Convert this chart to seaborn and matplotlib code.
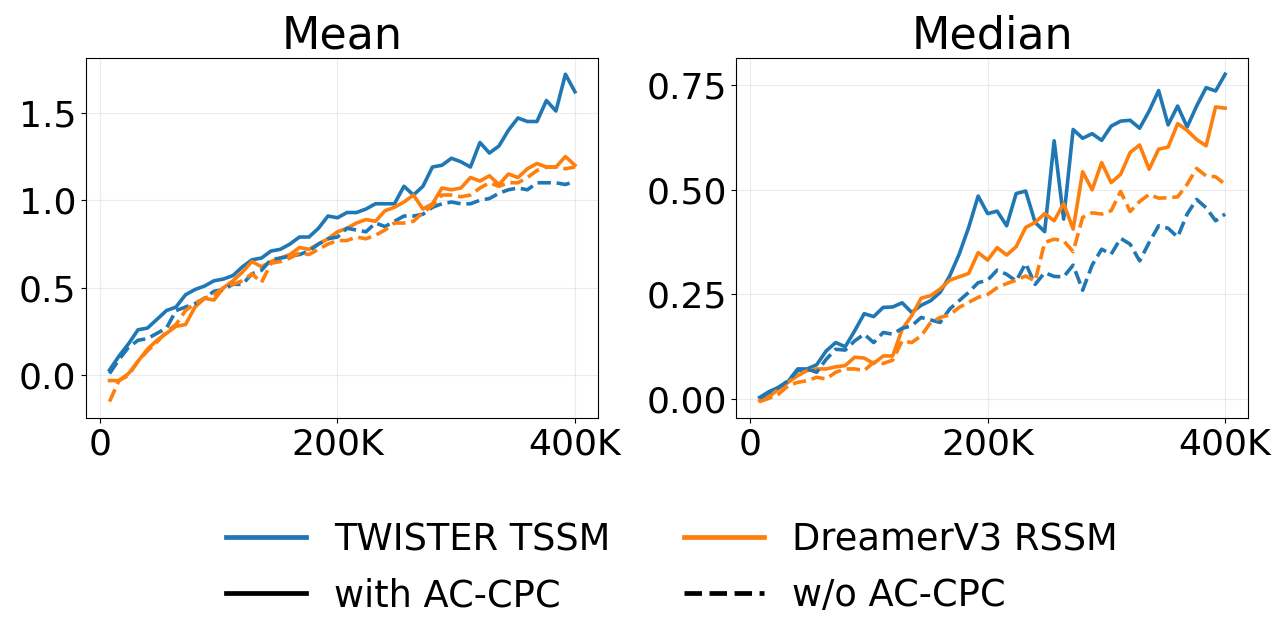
import numpy as np
import pandas as pd
import seaborn as sns
import matplotlib.pyplot as plt
from matplotlib.lines import Line2D
from matplotlib.ticker import FuncFormatter

steps = np.arange(8, 401, 8) * 1000

mean_twister_cpc = [0.03, 0.11, 0.18, 0.26, 0.27, 0.32, 0.37, 0.39, 0.46, 0.49,
                    0.51, 0.54, 0.55, 0.57, 0.62, 0.66, 0.67, 0.71, 0.72, 0.75,
                    0.79, 0.79, 0.84, 0.91, 0.90, 0.93, 0.93, 0.95, 0.98, 0.98,
                    0.98, 1.08, 1.03, 1.08, 1.19, 1.20, 1.24, 1.22, 1.19, 1.33,
                    1.27, 1.31, 1.40, 1.47, 1.45, 1.45, 1.57, 1.51, 1.72, 1.62]
mean_dreamer_cpc = [-0.03, -0.03, 0.01, 0.08, 0.15, 0.20, 0.24, 0.28, 0.29, 0.39,
                    0.44, 0.43, 0.50, 0.54, 0.59, 0.65, 0.62, 0.65, 0.67, 0.69,
                    0.73, 0.72, 0.75, 0.78, 0.82, 0.84, 0.87, 0.89, 0.88, 0.94,
                    0.96, 0.99, 1.03, 0.95, 0.98, 1.07, 1.06, 1.07, 1.13, 1.11,
                    1.14, 1.09, 1.15, 1.13, 1.18, 1.21, 1.19, 1.19, 1.25, 1.20]
mean_twister_nocpc = [0.01, 0.09, 0.16, 0.20, 0.21, 0.24, 0.27, 0.37, 0.39, 0.41,
                      0.44, 0.48, 0.49, 0.52, 0.52, 0.58, 0.60, 0.66, 0.67, 0.68,
                      0.69, 0.71, 0.75, 0.78, 0.79, 0.84, 0.83, 0.82, 0.87, 0.85,
                      0.88, 0.91, 0.91, 0.92, 0.96, 0.98, 0.99, 0.98, 0.98, 1.00,
                      1.01, 1.04, 1.06, 1.07, 1.06, 1.10, 1.10, 1.10, 1.09, 1.11]
mean_dreamer_nocpc = [-0.15, -0.03, 0.00, 0.08, 0.14, 0.19, 0.25, 0.29, 0.37, 0.41,
                      0.44, 0.46, 0.50, 0.52, 0.54, 0.58, 0.53, 0.64, 0.65, 0.67,
                      0.70, 0.69, 0.72, 0.75, 0.77, 0.77, 0.79, 0.78, 0.80, 0.83,
                      0.87, 0.87, 0.88, 0.93, 0.97, 1.03, 1.03, 1.02, 1.03, 1.07,
                      1.10, 1.08, 1.10, 1.10, 1.13, 1.17, 1.19, 1.19, 1.18, 1.19]

median_twister_cpc = [0.004, 0.018, 0.028, 0.042, 0.072, 0.072, 0.082, 0.115, 0.135, 0.125,
                      0.163, 0.204, 0.197, 0.219, 0.220, 0.230, 0.207, 0.224, 0.235, 0.255,
                      0.294, 0.346, 0.410, 0.485, 0.443, 0.449, 0.414, 0.491, 0.497, 0.422,
                      0.400, 0.617, 0.430, 0.644, 0.623, 0.634, 0.618, 0.652, 0.664, 0.666,
                      0.647, 0.688, 0.737, 0.655, 0.700, 0.650, 0.700, 0.744, 0.736, 0.776]
median_dreamer_cpc = [-0.004, 0.006, 0.024, 0.040, 0.056, 0.068, 0.072, 0.072, 0.077, 0.080,
                      0.100, 0.098, 0.085, 0.103, 0.103, 0.167, 0.199, 0.241, 0.247, 0.263,
                      0.284, 0.292, 0.300, 0.350, 0.332, 0.362, 0.344, 0.364, 0.410, 0.422,
                      0.443, 0.426, 0.467, 0.406, 0.543, 0.500, 0.565, 0.517, 0.537, 0.589,
                      0.607, 0.549, 0.597, 0.602, 0.658, 0.642, 0.620, 0.605, 0.698, 0.695]
median_twister_nocpc = [0.002, 0.016, 0.028, 0.044, 0.068, 0.072, 0.064, 0.095, 0.119, 0.117,
                        0.139, 0.155, 0.135, 0.159, 0.155, 0.169, 0.175, 0.195, 0.189, 0.183,
                        0.215, 0.235, 0.255, 0.278, 0.284, 0.308, 0.298, 0.282, 0.324, 0.274,
                        0.302, 0.293, 0.292, 0.320, 0.260, 0.320, 0.358, 0.346, 0.384, 0.370,
                        0.330, 0.374, 0.414, 0.408, 0.387, 0.442, 0.477, 0.457, 0.426, 0.442]
median_dreamer_nocpc = [-0.006, 0.002, 0.012, 0.032, 0.040, 0.044, 0.052, 0.048, 0.064, 0.072,
                        0.072, 0.068, 0.088, 0.085, 0.093, 0.139, 0.135, 0.151, 0.183, 0.195,
                        0.201, 0.219, 0.231, 0.243, 0.250, 0.266, 0.276, 0.284, 0.294, 0.282,
                        0.374, 0.382, 0.378, 0.352, 0.434, 0.445, 0.442, 0.450, 0.496, 0.448,
                        0.472, 0.489, 0.480, 0.481, 0.483, 0.513, 0.551, 0.533, 0.531, 0.513]

blue = '#1f77b4'
orange = '#ff7f0e'

panels = [
    ('Mean', mean_twister_cpc, mean_dreamer_cpc, mean_twister_nocpc, mean_dreamer_nocpc),
    ('Median', median_twister_cpc, median_dreamer_cpc, median_twister_nocpc, median_dreamer_nocpc),
]

fig, axes = plt.subplots(1, 2, figsize=(12.87, 6.43), dpi=100)
fig.subplots_adjust(left=0.067, right=0.97, top=0.91, bottom=0.35, wspace=0.27)

for ax, (title, tw_c, dr_c, tw_n, dr_n) in zip(axes, panels):
    sns.lineplot(x=steps, y=tw_c, ax=ax, color=blue, lw=2.6)
    sns.lineplot(x=steps, y=dr_c, ax=ax, color=orange, lw=2.6)
    sns.lineplot(x=steps, y=tw_n, ax=ax, color=blue, lw=2.6, linestyle='--')
    sns.lineplot(x=steps, y=dr_n, ax=ax, color=orange, lw=2.6, linestyle='--')
    ax.set_title(title, fontsize=32)
    ax.set_xticks([0, 200000, 400000])
    ax.xaxis.set_major_formatter(FuncFormatter(lambda v, p: '0' if v == 0 else f'{int(v/1000)}K'))
    ax.tick_params(labelsize=26)
    ax.grid(True, alpha=0.25)
    for s in ax.spines.values():
        s.set_color('black')

axes[0].set_yticks([0.0, 0.5, 1.0, 1.5])
axes[1].set_yticks([0.0, 0.25, 0.5, 0.75])
axes[1].yaxis.set_major_formatter(FuncFormatter(lambda v, p: f'{v:.2f}'))

handles = [
    Line2D([], [], color=blue, lw=3.4),
    Line2D([], [], color='black', lw=3.4),
    Line2D([], [], color=orange, lw=3.4),
    Line2D([], [], color='black', lw=3.4, linestyle='--'),
]
labels = ['TWISTER TSSM', 'with AC-CPC', 'DreamerV3 RSSM', 'w/o AC-CPC']
fig.legend(handles, labels, loc='center', bbox_to_anchor=(0.522, 0.117), ncol=2,
           frameon=False, fontsize=26.5, handlelength=2.17, handletextpad=0.76,
           columnspacing=2.0, labelspacing=0.52)

fig.savefig('out.png', dpi=100)
